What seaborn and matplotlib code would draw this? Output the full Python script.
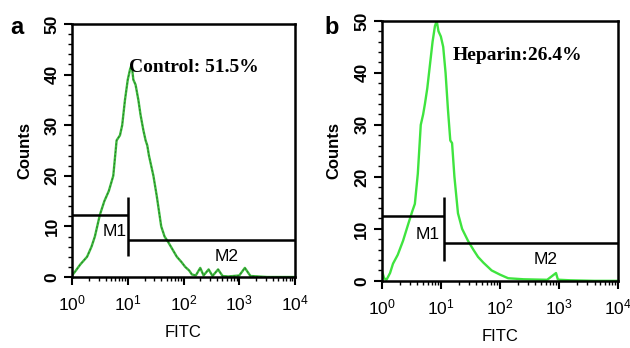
import numpy as np
import pandas as pd
import matplotlib
matplotlib.use('Agg')
import matplotlib.pyplot as plt
import seaborn as sns
from matplotlib.ticker import LogLocator, MultipleLocator, NullFormatter

# histogram a (control), x as log10(FITC)
a_logx = [0, 0.05, 0.15, 0.27, 0.35, 0.41, 0.5, 0.58, 0.66, 0.74, 0.8, 0.86, 0.9, 0.95,
          1.0, 1.04, 1.07, 1.1, 1.14, 1.19, 1.23, 1.28, 1.32, 1.35, 1.38, 1.42, 1.46, 1.52,
          1.6, 1.66, 1.72, 1.8, 1.88, 1.96, 2.03, 2.1, 2.15, 2.22, 2.3, 2.36, 2.45, 2.52,
          2.62, 2.7, 2.8, 3.0, 3.1, 3.2, 3.5, 4.0]
a_counts = [0.3, 1, 2.5, 4, 6, 8, 12.3, 15, 17, 20, 27, 28, 30, 35,
            39, 41, 42, 39, 38, 35, 32, 29, 27, 26, 24, 22, 20, 16,
            10, 8, 7, 5.5, 4, 3, 2, 1.3, 0.5, 0.3, 1.8, 0.3, 1.5, 0.2,
            1.5, 0.2, 0.1, 0.3, 1.8, 0.2, 0, 0]

# histogram b (heparin)
b_logx = [0, 0.04, 0.08, 0.14, 0.19, 0.27, 0.36, 0.45, 0.52, 0.56, 0.61, 0.66, 0.7, 0.73,
          0.77, 0.81, 0.86, 0.9, 0.93, 0.96, 1.0, 1.04, 1.08, 1.12, 1.16, 1.19, 1.23, 1.29,
          1.36, 1.46, 1.55, 1.63, 1.72, 1.86, 2.0, 2.14, 2.4, 2.8, 2.95, 2.98, 3.01, 3.2, 3.6, 4.0]
b_counts = [2, 0.5, 0.2, 1.5, 3.3, 5, 7.7, 11, 13.5, 14.8, 20.6, 30, 32, 34,
            37, 41, 46, 49, 50, 48, 47, 45, 40, 33, 27, 26.5, 20, 13,
            10, 7.7, 6, 4.6, 3.5, 2, 1.2, 0.5, 0.3, 0.2, 1.5, 0.3, 0.2, 0.1, 0, 0]

# gates: M1 level, split point, M2 level, vertical span of split marker
gate_a = dict(m1=12.3, split=10 ** 1.0, m2=7.3, vlo=4.1, vhi=15.8)
gate_b = dict(m1=12.5, split=10 ** 1.05, m2=7.3, vlo=3.8, vhi=16.2)

df_a = pd.DataFrame({'FITC': 10 ** np.array(a_logx), 'Counts': a_counts})
df_b = pd.DataFrame({'FITC': 10 ** np.array(b_logx), 'Counts': b_counts})

sns.set_style('ticks')
plt.rcParams['font.family'] = ['Liberation Sans', 'DejaVu Sans']
plt.rcParams['mathtext.fontset'] = 'custom'
plt.rcParams['mathtext.rm'] = 'Liberation Sans'
plt.rcParams['mathtext.it'] = 'Liberation Sans:italic'
plt.rcParams['mathtext.bf'] = 'Liberation Sans:bold'
plt.rcParams['text.color'] = 'black'
plt.rcParams['axes.labelcolor'] = 'black'
plt.rcParams['xtick.color'] = 'black'
plt.rcParams['ytick.color'] = 'black'

fig = plt.figure(figsize=(6.3, 3.48), dpi=100)
ax_a = fig.add_axes([0.1143, 0.204, 0.354, 0.727])
ax_b = fig.add_axes([0.606, 0.193, 0.375, 0.747])


def style_axis(ax, gate):
    ax.set_xscale('log')
    ax.set_xlim(1, 1e4)
    ax.set_ylim(0, 50)
    ax.xaxis.set_major_locator(LogLocator(base=10, numticks=6))
    ax.xaxis.set_minor_locator(LogLocator(base=10, subs=np.arange(2, 10), numticks=10))
    ax.xaxis.set_minor_formatter(NullFormatter())
    ax.yaxis.set_major_locator(MultipleLocator(10))
    ax.yaxis.set_minor_locator(MultipleLocator(2))
    for s in ax.spines.values():
        s.set_linewidth(1.8)
        s.set_color('black')
    ax.tick_params(axis='both', which='major', length=6, width=1.5, labelsize=12.5)
    ax.tick_params(axis='both', which='minor', length=3, width=1.0)
    ax.tick_params(axis='x', which='major', pad=6)
    ax.tick_params(axis='y', labelrotation=90, pad=3)
    for lab in ax.get_yticklabels():
        lab.set_verticalalignment('center')
        lab.set_fontweight('bold')
    ax.set_xlabel('FITC', fontsize=12, labelpad=8)
    ax.set_ylabel('Counts', fontsize=12, fontweight='bold', labelpad=9)
    # gate markers
    ax.hlines(gate['m1'], 1, gate['split'], color='black', lw=1.8)
    ax.vlines(gate['split'], gate['vlo'], gate['vhi'], color='black', lw=1.8)
    ax.hlines(gate['m2'], gate['split'], 1e4, color='black', lw=1.8)
    ax.text(10 ** 0.77, 9, 'M1', fontsize=12.5, ha='center', va='center')
    ax.text(10 ** 2.78, 4.1, 'M2', fontsize=12.5, ha='center', va='center')


sns.lineplot(data=df_a, x='FITC', y='Counts', ax=ax_a, color='#3dbb3d', lw=1.7)
ax_a.plot(df_a['FITC'], df_a['Counts'], color='#1f5f1f', lw=0.7, ls=(0, (2, 2)), alpha=0.7)
sns.lineplot(data=df_b, x='FITC', y='Counts', ax=ax_b, color='#3fe43f', lw=1.7)

style_axis(ax_a, gate_a)
style_axis(ax_b, gate_b)

ax_a.text(10 ** 1.02, 41.5, 'Control: 51.5%', fontsize=14, fontweight='bold',
          family='Liberation Serif', va='center', ha='left')
ax_b.text(10 ** 1.2, 43.3, 'Heparin:26.4%', fontsize=14, fontweight='bold',
          family='Liberation Serif', va='center', ha='left')

fig.text(0.027, 0.922, 'a', fontsize=17, fontweight='bold', va='center', ha='center')
fig.text(0.527, 0.92, 'b', fontsize=17, fontweight='bold', va='center', ha='center')

fig.savefig('out.png', dpi=100)
